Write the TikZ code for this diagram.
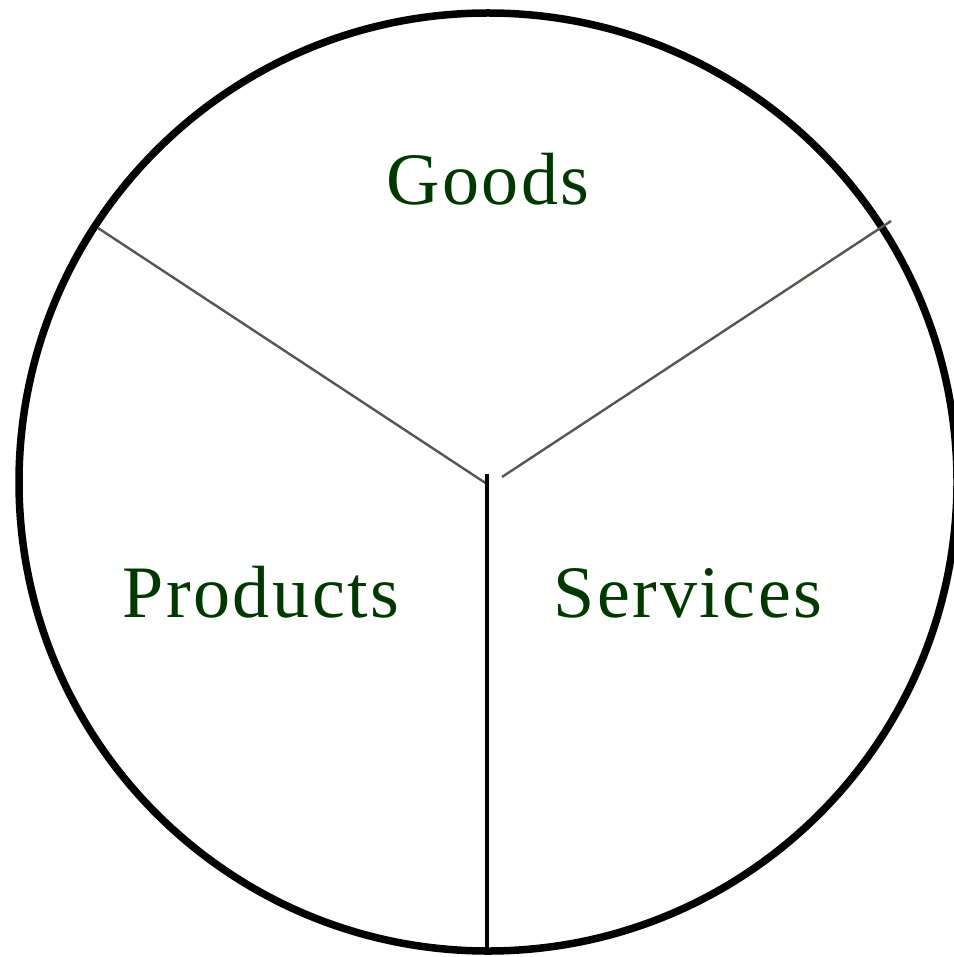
\documentclass[tikz,border=0pt]{standalone}
\usepackage{fontspec}
\setmainfont{Liberation Serif}[LetterSpace=3.5]
\usepackage{xcolor}
\usetikzlibrary{positioning}

\definecolor{leafgreen}{RGB}{0,56,0}
\definecolor{spokegray}{RGB}{90,85,80}

\begin{document}
\begin{tikzpicture}[
    x=1pt, y=-1pt,
    wheel/.style={circle, draw=black, line width=7.5pt, minimum size=938pt, inner sep=0pt},
    label/.style={text=leafgreen, font=\fontsize{74}{80}\selectfont, inner sep=0pt, anchor=base},
    spoke/.style={draw=spokegray, line width=2.4pt},
    divider/.style={draw=black, line width=4pt}
]
\useasboundingbox (0,0) rectangle (953,957);

% Outer circle
\node[wheel] (wheel) at (488,482) {};

% Spoke end points
\coordinate (hubL) at (487,484);
\coordinate (hubR) at (502,477);
\coordinate (hubB) at (487,474);
\coordinate (rimL) at (98,228);
\coordinate (rimR) at (891,221);
\coordinate (rimB) at (487,951);

% Dividing lines
\draw[spoke] (rimL) -- (hubL);
\draw[spoke] (hubR) -- (rimR);
\draw[divider] (hubB) -- (rimB);

% Sector labels
\node[label] (goods) at (488,205) {Goods};
\node[label] (products) at (261,617) {Products};
\node[label] (services) at (688,617) {Services};

\end{tikzpicture}
\end{document}
